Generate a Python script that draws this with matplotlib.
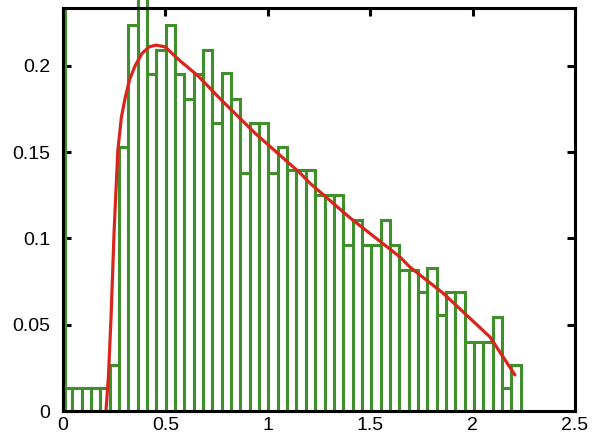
import numpy as np
import matplotlib
matplotlib.use("Agg")
import matplotlib.pyplot as plt

plt.rcParams['font.family'] = ['Liberation Sans', 'DejaVu Sans']

# Histogram: 49 equal bins from 0 to 2.235
bin_start = 0.0
bin_stop = 2.235
bin_heights = [
    0.0133, 0.0133, 0.0133, 0.0133, 0.0133, 0.0265, 0.153, 0.2236, 0.25, 0.195,
    0.209, 0.2236, 0.195, 0.181, 0.195, 0.209, 0.167, 0.196, 0.181, 0.138,
    0.167, 0.167, 0.138, 0.153, 0.1396, 0.1396, 0.1396, 0.125, 0.125, 0.125,
    0.096, 0.1106, 0.096, 0.096, 0.1106, 0.096, 0.0817, 0.0817, 0.069, 0.083,
    0.0556, 0.069, 0.069, 0.040, 0.040, 0.040, 0.0545, 0.0133, 0.0266,
]
# spike of exact zeros at the left edge
zero_spike = 0.30

# Fitted density curve
curve_x = [0.21, 0.222, 0.235, 0.25, 0.268, 0.285, 0.303, 0.325, 0.352, 0.385,
           0.42, 0.455, 0.498, 0.571, 0.661, 0.775, 0.873, 0.9375, 1.157, 1.206,
           1.401, 1.646, 1.694, 1.855, 2.085, 2.207]
curve_y = [0.0, 0.02, 0.055, 0.105, 0.151, 0.170, 0.181, 0.192, 0.200, 0.207,
           0.211, 0.212, 0.211, 0.203, 0.194, 0.180, 0.1686, 0.161, 0.138, 0.132,
           0.112, 0.0892, 0.0834, 0.0684, 0.0429, 0.0209]

x_ticks = [0, 0.5, 1, 1.5, 2, 2.5]
x_tick_labels = ['0', '0.5', '1', '1.5', '2', '2.5']
y_ticks = [0, 0.05, 0.1, 0.15, 0.2]
y_tick_labels = ['0', '0.05', '0.1', '0.15', '0.2']

green = '#3f8f2c'
red = '#d8261c'

fig = plt.figure(figsize=(6.09, 4.43), dpi=100)
ax = fig.add_axes([0.1034, 0.0722, 0.8407, 0.9097])

edges = np.linspace(bin_start, bin_stop, len(bin_heights) + 1)
widths = np.diff(edges)
ax.bar(edges[:-1], bin_heights, width=widths, align='edge',
       facecolor='white', edgecolor=green, linewidth=2.2, zorder=2,
       clip_on=False)
ax.vlines(edges[0] + 0.012, 0, zero_spike, color=green, linewidth=2.2, zorder=2)

ax.plot(curve_x, curve_y, color=red, linewidth=2.3, zorder=3,
        solid_capstyle='round', solid_joinstyle='round')

ax.set_xlim(0, 2.5)
ax.set_ylim(0, 0.2335)
ax.set_xticks(x_ticks)
ax.set_xticklabels(x_tick_labels)
ax.set_yticks(y_ticks)
ax.set_yticklabels(y_tick_labels)

for s in ax.spines.values():
    s.set_linewidth(2.2)
    s.set_zorder(4)
ax.tick_params(direction='in', length=6, width=2.2, top=True, right=True,
               labelsize=14)
ax.tick_params(axis='y', pad=9)
ax.tick_params(axis='x', pad=4)

fig.savefig('out.png', dpi=100)
